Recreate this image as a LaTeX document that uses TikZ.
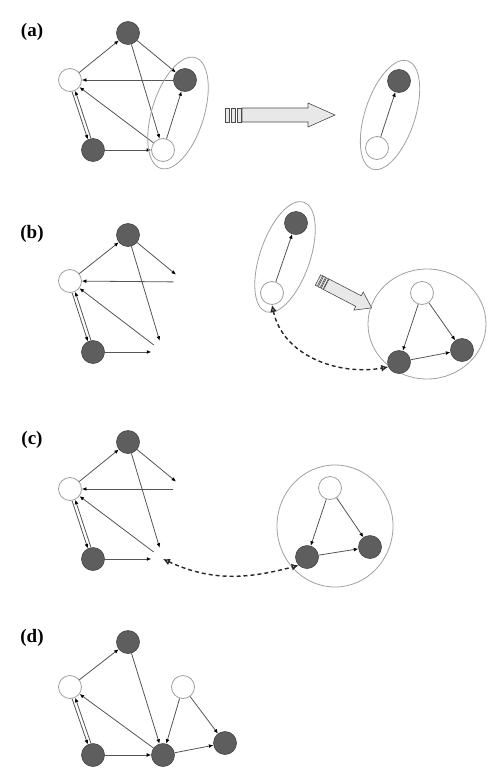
\documentclass[tikz,border=0pt]{standalone}
\usepackage{fontspec}
\setmainfont{Liberation Serif}
\usetikzlibrary{arrows.meta,shapes.geometric}
\definecolor{nodedark}{HTML}{5E5E5E}
\definecolor{nodeline}{HTML}{444444}
\definecolor{edgegray}{HTML}{555555}
\definecolor{ringgray}{HTML}{A0A0A0}
\definecolor{arrowfill}{HTML}{E8E8E8}

\begin{document}
\begin{tikzpicture}[
    x=1pt, y=-1pt,
    dark/.style={circle, draw=nodeline, fill=nodedark, minimum size=23pt,
                 inner sep=0pt, line width=0.6pt},
    light/.style={circle, draw=ringgray, fill=white, minimum size=23pt,
                  inner sep=0pt, line width=0.8pt},
    ghost/.style={circle, minimum size=23pt, inner sep=0pt},
    grp/.style={ellipse, draw=ringgray, line width=0.8pt, inner sep=0pt},
    edge/.style={draw=edgegray, line width=0.8pt,
                 -{Latex[length=4.5pt, width=3.8pt, color=black]}},
    link/.style={draw=black!85, line width=1.4pt, dash pattern=on 4pt off 3pt,
                 {Latex[open, length=7pt, width=7pt]}-{Latex[open, length=7pt, width=7pt]}},
    tag/.style={font=\fontsize{19}{21}\selectfont\bfseries},
    bigarrow/.pic={
        \draw[draw=gray!60!black, fill=arrowfill, line width=0.6pt]
            (17,-7) -- (83,-7) -- (83,-12) -- (110,0) -- (83,12) -- (83,7) -- (17,7) -- cycle;
        \draw[draw=gray!60!black, fill=arrowfill, line width=0.6pt] (0,-7) rectangle (4,7);
        \draw[draw=gray!60!black, fill=arrowfill, line width=0.6pt] (6,-7) rectangle (10,7);
        \draw[draw=gray!60!black, fill=arrowfill, line width=0.6pt] (12,-7) rectangle (16,7);
    },
]
\useasboundingbox (0,0) rectangle (498,779);

% (a) full graph
\node[tag] (la) at (32,32) {(a)};
\node[dark]  (a1) at (128,33) {};
\node[light] (a2) at (70,80) {};
\node[dark]  (a3) at (185,80) {};
\node[dark]  (a4) at (93,150) {};
\node[light] (a5) at (163,150) {};
\draw[edge] (a2) -- (a1);
\draw[edge] (a1) -- (a3);
\draw[edge] (a1) -- (a5);
\draw[edge] (a3) -- (a2);
\draw[edge] (a5) -- (a2);
\draw[edge] (a5) -- (a3);
\draw[edge] (a4) -- (a5);
\draw[edge] (a2.-80) -- (a4.116);
\draw[edge] (a4.100) -- (a2.-64);
\node[grp, minimum width=116pt, minimum height=52pt, rotate=72.6] (ga) at (178,113) {};

% (a) extracted pair
\pic at (225,115) {bigarrow};
\node[light] (a6) at (377,148) {};
\node[dark]  (a7) at (399,81) {};
\draw[edge] (a6) -- (a7);
\node[grp, minimum width=114pt, minimum height=50pt, rotate=71.8] (gb) at (390,115) {};

% (b) graph with pair removed
\node[tag] (lb) at (32,234) {(b)};
\node[dark]  (b1) at (128,235) {};
\node[light] (b2) at (70,281) {};
\node[ghost] (b3) at (185,282) {};
\node[dark]  (b4) at (93,352) {};
\node[ghost] (b5) at (163,352) {};
\draw[edge] (b2) -- (b1);
\draw[edge] (b1) -- (b3);
\draw[edge] (b3) -- (b2);
\draw[edge] (b1) -- (b5);
\draw[edge] (b5) -- (b2);
\draw[edge] (b4) -- (b5);
\draw[edge] (b2.-80) -- (b4.116);
\draw[edge] (b4.100) -- (b2.-64);

% (b) pair and its replacement
\node[light] (b6) at (272,293) {};
\node[dark]  (b7) at (296,223) {};
\draw[edge] (b6) -- (b7);
\node[grp, minimum width=116pt, minimum height=50pt, rotate=71] (gc) at (285,257) {};
\pic[rotate=-27.5, xscale=0.55, yscale=0.85] at (318,280) {bigarrow};
\node[grp, minimum width=118pt, minimum height=110pt] (gd) at (427,324) {};
\node[light] (b8)  at (422,293) {};
\node[dark]  (b9)  at (399,362) {};
\node[dark]  (b10) at (462,350) {};
\draw[edge] (b8) -- (b9);
\draw[edge] (b8) -- (b10);
\draw[edge] (b9) -- (b10);
\draw[link] (b6.south) to[out=-78, in=190] (b9.205);

% (c) inserting the subgraph
\node[tag] (lc) at (32,440) {(c)};
\node[dark]  (c1) at (128,442) {};
\node[light] (c2) at (70,489) {};
\node[ghost] (c3) at (185,489) {};
\node[dark]  (c4) at (93,559) {};
\node[ghost] (c5) at (163,559) {};
\draw[edge] (c2) -- (c1);
\draw[edge] (c1) -- (c3);
\draw[edge] (c3) -- (c2);
\draw[edge] (c1) -- (c5);
\draw[edge] (c5) -- (c2);
\draw[edge] (c4) -- (c5);
\draw[edge] (c2.-80) -- (c4.116);
\draw[edge] (c4.100) -- (c2.-64);
\node[grp, minimum width=116pt, minimum height=122pt] (ge) at (335,526) {};
\node[light] (c6) at (330,488) {};
\node[dark]  (c7) at (307,557) {};
\node[dark]  (c8) at (370,547) {};
\draw[edge] (c6) -- (c7);
\draw[edge] (c6) -- (c8);
\draw[edge] (c7) -- (c8);
\draw[link] (c5.center) to[out=-25, in=195] (c7.225);

% (d) result
\node[tag] (ld) at (32,638) {(d)};
\node[dark]  (d1) at (128,642) {};
\node[light] (d2) at (70,687) {};
\node[dark]  (d3) at (93,755) {};
\node[dark]  (d4) at (163,755) {};
\node[light] (d5) at (183,687) {};
\node[dark]  (d6) at (225,743) {};
\draw[edge] (d2) -- (d1);
\draw[edge] (d1) -- (d4);
\draw[edge] (d4) -- (d2);
\draw[edge] (d3) -- (d4);
\draw[edge] (d5) -- (d4);
\draw[edge] (d5) -- (d6);
\draw[edge] (d4) -- (d6);
\draw[edge] (d2.-80) -- (d3.116);
\draw[edge] (d3.100) -- (d2.-64);

\end{tikzpicture}
\end{document}
